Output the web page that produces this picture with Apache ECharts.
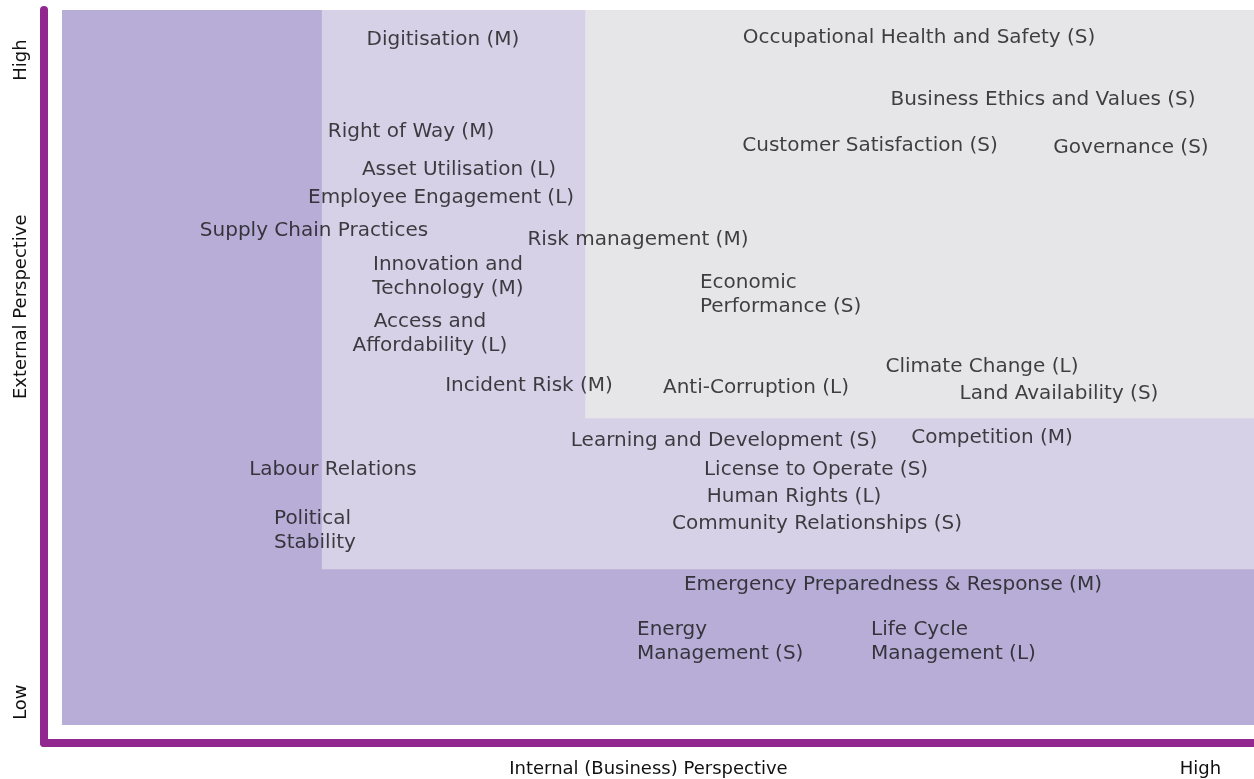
<!DOCTYPE html>
<html>
<head>
<meta charset="utf-8">
<script src="https://cdn.jsdelivr.net/npm/echarts@6/dist/echarts.min.js"></script>
<style>
  html, body { margin: 0; padding: 0; background: #fff; }
  #chart { width: 1254px; height: 779px; }
</style>
</head>
<body>
<div id="chart"></div>
<script>
// issues plotted on the matrix (internal score, external score), 0-100
const issues = [
  "Digitisation (M)", "Occupational Health and Safety (S)", "Business Ethics and Values (S)",
  "Right of Way (M)", "Customer Satisfaction (S)", "Governance (S)", "Asset Utilisation (L)",
  "Employee Engagement (L)", "Supply Chain Practices", "Risk management (M)",
  "Innovation and\nTechnology (M)", "Economic\nPerformance (S)", "Access and\nAffordability (L)",
  "Climate Change (L)", "Incident Risk (M)", "Anti-Corruption (L)", "Land Availability (S)",
  "Learning and Development (S)", "Competition (M)", "Labour Relations", "License to Operate (S)",
  "Human Rights (L)", "Political\nStability", "Community Relationships (S)",
  "Emergency Preparedness & Response (M)", "Energy\nManagement (S)", "Life Cycle\nManagement (L)"
];
const internalScore = [
  31.96, 71.90, 82.30, 29.28, 67.79, 89.68, 33.31, 31.80, 21.14, 48.32,
  32.38, 53.52, 30.87, 77.18, 39.18, 58.22, 83.64, 55.54, 78.02, 22.73,
  63.26, 61.41, 17.79, 63.34, 69.71, 48.24, 67.87
];
const externalScore = [
  95.80, 96.08, 87.41, 82.94, 80.95, 80.67, 77.62, 73.71, 69.09, 67.83,
  62.66, 60.21, 54.69, 50.07, 47.41, 47.13, 46.29, 39.72, 40.14, 35.66,
  35.66, 31.89, 27.20, 28.11, 19.58, 11.61, 11.61
];
// labels written left-aligned from their point
const leftAligned = ["Economic\nPerformance (S)", "Political\nStability",
  "Energy\nManagement (S)", "Life Cycle\nManagement (L)"];

// priority zones (lower-left corner of each band)
const zoneX = [0, 21.8, 43.9];
const zoneY = [0, 21.8, 42.9];
const zoneColors = ["#b8add6", "#d7d1e8", "#e6e6e9"];

// axis labels
const xTickValues = [49.2, 95.5];
const xTickLabels = ["Internal (Business) Perspective", "High"];
const yTickValues = [3.2, 58.5, 93];
const yTickLabels = ["Low", "External Perspective", "High"];

const chart = echarts.init(document.getElementById("chart"));

function pick(values, labels, v) {
  let best = 0;
  values.forEach((t, i) => { if (Math.abs(t - v) < Math.abs(values[best] - v)) best = i; });
  return labels[best];
}

const axisLineStyle = { color: "#92278f", width: 8 };

const option = {
  animation: false,
  grid: { left: 44.1, right: 0, top: 10, bottom: 36.1 },
  xAxis: {
    type: "value", min: -1.5, max: 100,
    axisLine: { show: true, onZero: false, lineStyle: axisLineStyle },
    axisTick: { show: false },
    splitLine: { show: false },
    axisLabel: {
      customValues: xTickValues,
      formatter: v => pick(xTickValues, xTickLabels, v),
      margin: 17, color: "#111", fontSize: 18,
      fontFamily: "DejaVu Sans"
    }
  },
  yAxis: {
    type: "value", min: -2.5, max: 100,
    axisLine: { show: true, onZero: false, lineStyle: axisLineStyle },
    axisTick: { show: false },
    splitLine: { show: false },
    axisLabel: {
      customValues: yTickValues,
      formatter: v => pick(yTickValues, yTickLabels, v),
      rotate: 90, margin: 14, color: "#111", fontSize: 18,
      fontFamily: "DejaVu Sans"
    }
  },
  series: [{
    type: "scatter",
    symbolSize: 0,
    data: issues.map((name, i) => {
      const item = { name, value: [internalScore[i], externalScore[i]] };
      if (leftAligned.includes(name)) item.label = { align: "left" };
      return item;
    }),
    label: {
      show: true,
      position: "inside",
      formatter: "{b}",
      color: "#141414",
      textBorderWidth: 0,
      fontSize: 20,
      lineHeight: 24,
      fontFamily: "DejaVu Sans"
    },
    markArea: {
      silent: true,
      data: zoneX.map((x0, i) => [
        { xAxis: x0, yAxis: zoneY[i], itemStyle: { color: zoneColors[i], opacity: 1 } },
        { xAxis: 100, yAxis: 100 }
      ])
    }
  }]
};

chart.setOption(option);
</script>
</body>
</html>
